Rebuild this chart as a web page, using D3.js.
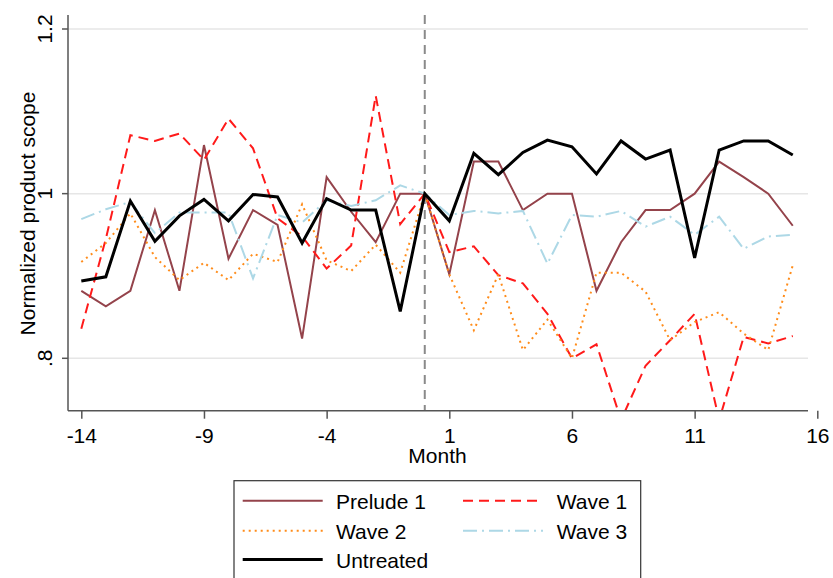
<!DOCTYPE html>
<html><head><meta charset="utf-8">
<script src="https://cdn.jsdelivr.net/npm/d3@7"></script>
<style>body{margin:0;background:#fff;}svg{display:block;font-family:"Liberation Sans",Arial,sans-serif;}</style>
</head><body>
<svg id="c" width="833" height="578"></svg>
<script>
const months = d3.range(-14, 16);
const xTicks = [-14, -9, -4, 1, 6, 11, 16];
const yTicks = [0.8, 1, 1.2];
const yTickLabels = [".8", "1", "1.2"];

const prelude1 = [0.882,0.863,0.882,0.980,0.882,1.059,0.921,0.980,0.962,0.824,1.020,0.978,0.941,1.000,1.000,
                  0.902,1.039,1.039,0.980,1.000,1.000,0.882,0.941,0.980,0.980,1.000,1.039,1.020,1.000,0.961];
const wave1 = [0.836,0.945,1.071,1.064,1.073,1.041,1.091,1.055,0.970,0.948,0.909,0.937,1.119,0.963,1.000,
               0.929,0.936,0.901,0.891,0.854,0.800,0.817,0.725,0.791,0.822,0.854,0.725,0.826,0.818,0.827];
const wave2 = [0.917,0.940,0.976,0.923,0.895,0.916,0.895,0.927,0.917,0.987,0.919,0.906,0.938,0.904,1.000,
               0.902,0.834,0.902,0.810,0.847,0.800,0.904,0.904,0.881,0.822,0.844,0.856,0.830,0.810,0.913];
const wave3 = [0.969,0.981,0.990,0.952,0.977,0.977,0.977,0.897,0.974,0.965,0.992,0.985,0.992,1.010,1.000,
               0.974,0.979,0.976,0.979,0.915,0.974,0.972,0.979,0.960,0.972,0.950,0.972,0.933,0.948,0.950];
const untreated = [0.894,0.899,0.991,0.942,0.973,0.993,0.967,0.999,0.996,0.940,0.994,0.980,0.980,0.857,1.000,
                   0.967,1.049,1.023,1.050,1.065,1.057,1.024,1.064,1.042,1.053,0.922,1.053,1.064,1.064,1.047];

const seriesNames = ["Prelude 1","Wave 1","Wave 2","Wave 3","Untreated"];
const seriesData = [prelude1, wave1, wave2, wave3, untreated];
const styles = [
  {color:"#94434b", width:2, dash:null},
  {color:"#ff1a1a", width:2, dash:"10,6"},
  {color:"#ff8c1a", width:2, dash:"2,4"},
  {color:"#add8e6", width:2, dash:"14,5,2,5"},
  {color:"#000000", width:3, dash:null}
];

const FS = 21;
const svg = d3.select("#c");
const L = 68, R = 808, T = 15, B = 410.7;
const x = d3.scaleLinear().domain([-14, 16]).range([81.3, 817.3]);
const y = d3.scaleLinear().domain([0.8, 1.2]).range([358.3, 29]);

// gridlines
svg.append("g").selectAll("line").data(yTicks).join("line")
  .attr("x1", L).attr("x2", R).attr("y1", d => y(d)).attr("y2", d => y(d))
  .attr("stroke", "#e6e6e6").attr("stroke-width", 1.5);

// clip
svg.append("clipPath").attr("id","clip").append("rect")
  .attr("x", L).attr("y", T).attr("width", R - L + 12).attr("height", B - T);

// vertical dashed line at 0
svg.append("line").attr("x1", x(0)).attr("x2", x(0)).attr("y1", T).attr("y2", B)
  .attr("stroke", "#8a8a8a").attr("stroke-width", 2).attr("stroke-dasharray", "9,6");

const line = d3.line().x((d, i) => x(months[i])).y(d => y(d));
const g = svg.append("g").attr("clip-path", "url(#clip)");
seriesData.forEach((s, k) => {
  g.append("path").datum(s).attr("d", line).attr("fill", "none")
    .attr("stroke", styles[k].color).attr("stroke-width", styles[k].width)
    .attr("stroke-dasharray", styles[k].dash).attr("stroke-linejoin", "miter");
});

// x axis
const xAxis = d3.axisBottom(x).tickValues(xTicks).tickSize(8).tickPadding(10).tickFormat(d => String(d));
const xg = svg.append("g").attr("transform", `translate(0,${B})`).call(xAxis);
xg.select(".domain").remove();
xg.append("line").attr("x1", L).attr("x2", R).attr("stroke", "#555").attr("stroke-width", 1.5);
xg.selectAll(".tick line").attr("stroke", "#555").attr("stroke-width", 1.5);
xg.selectAll(".tick text").attr("font-size", FS).attr("fill", "#000")
  .attr("font-family", "Liberation Sans, Arial, sans-serif").attr("dy", null).attr("y", 32.6);

// y axis
const yAxis = d3.axisLeft(y).tickValues(yTicks).tickSize(6).tickFormat((d, i) => yTickLabels[i]);
const yg = svg.append("g").attr("transform", `translate(${L},0)`).call(yAxis);
yg.select(".domain").remove();
yg.append("line").attr("y1", T).attr("y2", B).attr("stroke", "#555").attr("stroke-width", 1.5);
yg.selectAll(".tick").attr("transform", null);
yg.selectAll(".tick line").attr("y1", d => y(d)).attr("y2", d => y(d))
  .attr("stroke", "#555").attr("stroke-width", 1.5);
yg.selectAll(".tick text").attr("font-size", FS).attr("fill", "#000")
  .attr("font-family", "Liberation Sans, Arial, sans-serif")
  .attr("text-anchor", "middle").attr("dy", null)
  .attr("transform", "rotate(-90)")
  .attr("x", d => -y(d)).attr("y", -16.3);

// axis titles
svg.append("text").attr("x", 437.5).attr("y", 463).attr("text-anchor", "middle")
  .attr("font-size", FS).text("Month");
svg.append("text").attr("transform", `translate(35,213.5) rotate(-90)`).attr("text-anchor", "middle")
  .attr("font-size", FS).text("Normalized product scope");

// legend
svg.append("rect").attr("x", 234).attr("y", 480.7).attr("width", 406.7).attr("height", 120)
  .attr("fill", "#fff").attr("stroke", "#333").attr("stroke-width", 1.2);
const legPos = [
  {lx:242.7, tx:336, cy:500.7},
  {lx:463, tx:556.7, cy:500.7},
  {lx:242.7, tx:336, cy:530.7},
  {lx:463, tx:556.7, cy:530.7},
  {lx:242.7, tx:336, cy:559.5}
];
seriesNames.forEach((n, k) => {
  const p = legPos[k];
  svg.append("line").attr("x1", p.lx).attr("x2", p.lx + 80).attr("y1", p.cy).attr("y2", p.cy)
    .attr("stroke", styles[k].color).attr("stroke-width", styles[k].width)
    .attr("stroke-dasharray", styles[k].dash);
  svg.append("text").attr("x", p.tx).attr("y", p.cy + 8).attr("font-size", FS).text(n);
});
</script>
</body></html>
